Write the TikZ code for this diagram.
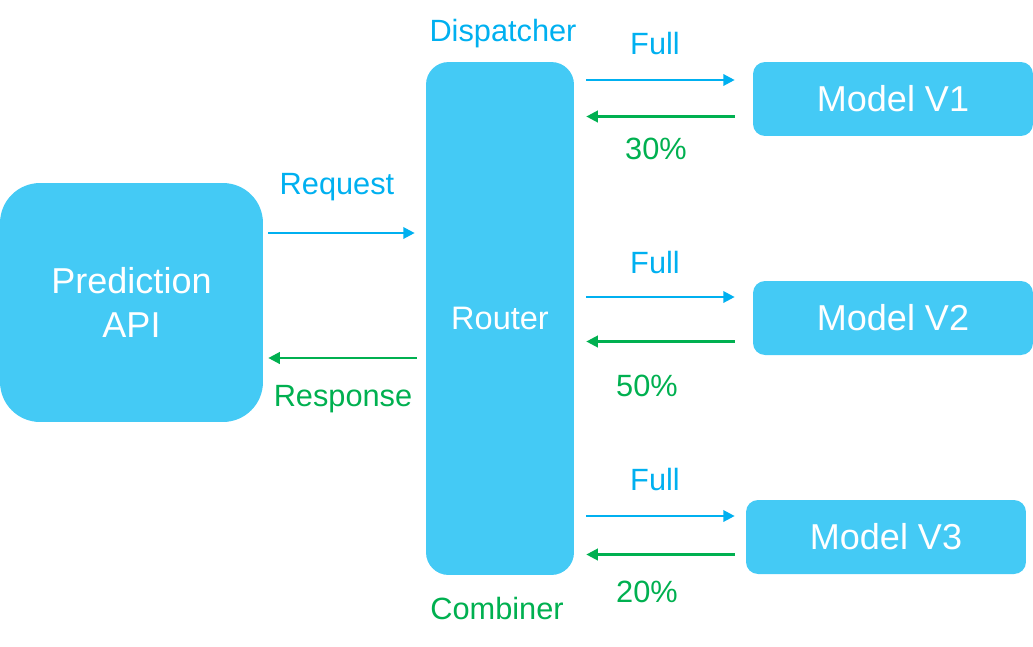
\documentclass[tikz,border=0pt]{standalone}
\usepackage{fontspec}
\setmainfont{Liberation Sans}
\usetikzlibrary{arrows.meta}
\definecolor{boxfill}{HTML}{44CAF5}
\definecolor{reqblue}{HTML}{00B0F0}
\definecolor{resgreen}{HTML}{00B050}
\begin{document}
\begin{tikzpicture}[x=0.02cm,y=-0.02cm,
  box/.style={fill=boxfill,draw=none,text=white,align=center,inner sep=0pt},
  bigtext/.style={font=\fontsize{20.5}{25}\selectfont},
  lbl/.style={font=\fontsize{17.5}{21}\selectfont,inner sep=0pt},
  fwd/.style={draw=reqblue,line width=1.3pt,-{Triangle[length=6.5pt,width=6.5pt]}},
  bwd/.style={draw=resgreen,line width=1.3pt,-{Triangle[length=6.5pt,width=6.5pt]}}]
\useasboundingbox (0,0) rectangle (1033,646);
% nodes
\node[box,bigtext,minimum width=5.26cm,minimum height=4.78cm,rounded corners=0.8cm] (api) at (131.5,302.5) {Prediction\\API};
\node[box,font=\fontsize{18.5}{22}\selectfont,minimum width=2.96cm,minimum height=10.26cm,rounded corners=0.45cm] (router) at (500,318.5) {Router};
\node[box,bigtext,minimum width=5.6cm,minimum height=1.48cm,rounded corners=0.24cm] (m1) at (893,99) {Model V1};
\node[box,bigtext,minimum width=5.6cm,minimum height=1.48cm,rounded corners=0.24cm] (m2) at (893,318) {Model V2};
\node[box,bigtext,minimum width=5.6cm,minimum height=1.48cm,rounded corners=0.24cm] (m3) at (886,537) {Model V3};
% helper levels
\coordinate (yreq) at (0,233);
\coordinate (yres) at (0,358);
\coordinate (yf1) at (0,80);
\coordinate (yb1) at (0,116.5);
\coordinate (yf2) at (0,297);
\coordinate (yb2) at (0,341.5);
\coordinate (yf3) at (0,516);
\coordinate (yb3) at (0,554.5);
% connectors
\draw[fwd,shorten <=0.1cm,shorten >=0.22cm] (api.east |- yreq) -- (router.west |- yreq);
\draw[bwd,shorten <=0.18cm,shorten >=0.1cm] (router.west |- yres) -- (api.east |- yres);
\draw[fwd,shorten <=0.24cm,shorten >=0.36cm] (router.east |- yf1) -- (m1.west |- yf1);
\draw[bwd,shorten <=0.36cm,shorten >=0.24cm] (m1.west |- yb1) -- (router.east |- yb1);
\draw[fwd,shorten <=0.24cm,shorten >=0.36cm] (router.east |- yf2) -- (m2.west |- yf2);
\draw[bwd,shorten <=0.36cm,shorten >=0.24cm] (m2.west |- yb2) -- (router.east |- yb2);
\draw[fwd,shorten <=0.24cm,shorten >=0.22cm] (router.east |- yf3) -- (m3.west |- yf3);
\draw[bwd,shorten <=0.22cm,shorten >=0.24cm] (m3.west |- yb3) -- (router.east |- yb3);
% labels
\node[lbl,text=reqblue] (ldisp) at (503,34) {Dispatcher};
\node[lbl,text=resgreen] (lcomb) at (497,608) {Combiner};
\node[lbl,text=reqblue] (lreq) at (337,187) {Request};
\node[lbl,text=resgreen] (lres) at (343,399) {Response};
\node[lbl,text=reqblue] (lf1) at (655,44) {Full};
\node[lbl,text=reqblue] (lf2) at (655,263) {Full};
\node[lbl,text=reqblue] (lf3) at (655,479) {Full};
\node[lbl,text=resgreen] (lp1) at (656,149) {30\%};
\node[lbl,text=resgreen] (lp2) at (647,386) {50\%};
\node[lbl,text=resgreen] (lp3) at (647,592) {20\%};
\end{tikzpicture}
\end{document}
